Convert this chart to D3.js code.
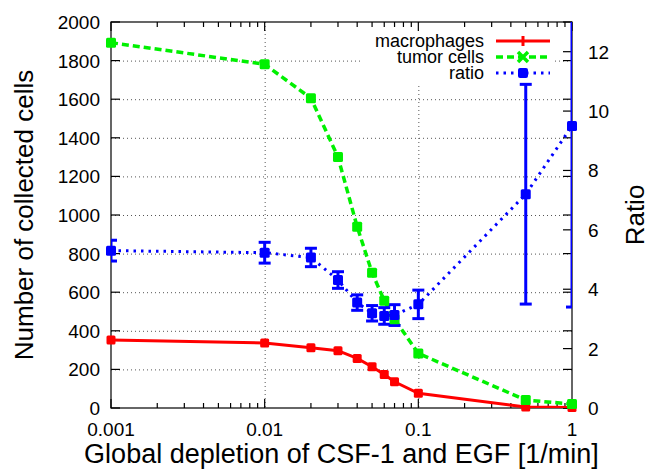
<!DOCTYPE html>
<html>
<head>
<meta charset="utf-8">
<script src="https://cdn.jsdelivr.net/npm/d3@7"></script>
<style>
  html, body { margin: 0; padding: 0; background: #fff; }
  svg { display: block; font-family: "Liberation Sans", Arial, Helvetica, sans-serif; }
</style>
</head>
<body>
<div id="chart"></div>
<script>
// depletion rates (x) and the three measured series
const depletion = [0.001, 0.01, 0.02, 0.03, 0.04, 0.05, 0.06, 0.07, 0.1, 0.5, 1];
const macrophages = [352, 337, 312, 297, 257, 214, 173, 136, 76, 5, 2];
const tumorCells = [1893, 1781, 1605, 1300, 939, 701, 556, 460, 283, 41, 21];
const ratio = [5.30, 5.23, 5.07, 4.31, 3.55, 3.19, 3.10, 3.13, 3.49, 7.2, 9.5];
const ratioErr = [0.35, 0.35, 0.31, 0.28, 0.26, 0.26, 0.28, 0.35, 0.48, 3.7, 6.1];

const xTicks = [0.001, 0.01, 0.1, 1];
const xTickLabels = ["0.001", "0.01", "0.1", "1"];
const yTicks = [0, 200, 400, 600, 800, 1000, 1200, 1400, 1600, 1800, 2000];
const y2Ticks = [0, 2, 4, 6, 8, 10, 12];
const legendLabels = ["macrophages", "tumor cells", "ratio"];

const width = 649, height = 470;
const margin = {top: 22, right: 77, bottom: 62, left: 111};
const plotW = width - margin.left - margin.right;
const plotH = height - margin.top - margin.bottom;

var svg = d3.select("#chart").append("svg")
    .attr("width", width)
    .attr("height", height);

var x = d3.scaleLog().domain([0.001, 1]).range([margin.left, margin.left + plotW]);
var y = d3.scaleLinear().domain([0, 2000]).range([margin.top + plotH, margin.top]);
var y2 = d3.scaleLinear().domain([0, 13]).range([margin.top + plotH, margin.top]);

svg.append("defs").append("clipPath").attr("id", "clip")
    .append("rect")
    .attr("x", margin.left).attr("y", margin.top)
    .attr("width", plotW).attr("height", plotH);

////////// GRID //////////
var grid = svg.append("g")
    .attr("stroke", "#555")
    .attr("stroke-width", 1)
    .attr("stroke-dasharray", "1,3");

grid.selectAll("line.h")
    .data(yTicks.filter(d => d > 0 && d < 2000))
    .enter().append("line")
    .attr("x1", margin.left).attr("x2", margin.left + plotW)
    .attr("y1", d => y(d) + 0.5).attr("y2", d => y(d) + 0.5);

grid.selectAll("line.v")
    .data(xTicks.filter(d => d > 0.001 && d < 1))
    .enter().append("line")
    .attr("y1", margin.top).attr("y2", margin.top + plotH)
    .attr("x1", d => x(d) + 0.5).attr("x2", d => x(d) + 0.5);

// legend box blanks out the grid behind it
svg.append("rect")
    .attr("x", 360).attr("y", margin.top + 1)
    .attr("width", 195).attr("height", 62)
    .attr("fill", "#fff");

////////// AXES //////////
var axes = svg.append("g").attr("stroke", "#000").attr("stroke-width", 1.2);

// minor log ticks on bottom and top
var minorX = [];
xTicks.slice(0, -1).forEach(function(d) {
    for (let k = 2; k <= 9; k++) minorX.push(d * k);
});

function xTickMarks(vals, len) {
    axes.selectAll(null).data(vals).enter().append("line")
        .attr("x1", d => x(d)).attr("x2", d => x(d))
        .attr("y1", margin.top + plotH).attr("y2", margin.top + plotH - len);
    axes.selectAll(null).data(vals).enter().append("line")
        .attr("x1", d => x(d)).attr("x2", d => x(d))
        .attr("y1", margin.top).attr("y2", margin.top + len);
}
xTickMarks(xTicks, 9);
xTickMarks(minorX, 5);

// left ticks, mirrored on the right side
axes.selectAll(null).data(yTicks).enter().append("line")
    .attr("x1", margin.left).attr("x2", margin.left + 9)
    .attr("y1", d => y(d)).attr("y2", d => y(d));
axes.selectAll(null).data(yTicks).enter().append("line")
    .attr("x1", margin.left + plotW).attr("x2", margin.left + plotW - 9)
    .attr("y1", d => y(d)).attr("y2", d => y(d));
// ratio ticks on the right
axes.selectAll(null).data(y2Ticks).enter().append("line")
    .attr("x1", margin.left + plotW).attr("x2", margin.left + plotW - 9)
    .attr("y1", d => y2(d)).attr("y2", d => y2(d));

axes.append("rect")
    .attr("x", margin.left).attr("y", margin.top)
    .attr("width", plotW).attr("height", plotH)
    .attr("fill", "none");

// tick labels
var labels = svg.append("g").attr("font-size", 19).attr("fill", "#000");
labels.selectAll(null).data(xTicks).enter().append("text")
    .attr("x", d => x(d)).attr("y", margin.top + plotH + 28)
    .attr("text-anchor", "middle")
    .text((d, i) => xTickLabels[i]);
labels.selectAll(null).data(yTicks).enter().append("text")
    .attr("x", margin.left - 11).attr("y", d => y(d) + 7)
    .attr("text-anchor", "end")
    .text(d => d);
labels.selectAll(null).data(y2Ticks).enter().append("text")
    .attr("x", margin.left + plotW + 16).attr("y", d => y2(d) + 7)
    .attr("text-anchor", "start")
    .text(d => d);

// axis titles
svg.append("text")
    .attr("x", margin.left + plotW / 2).attr("y", 463)
    .attr("text-anchor", "middle").attr("font-size", 27)
    .text("Global depletion of CSF-1 and EGF [1/min]");
svg.append("text")
    .attr("transform", "translate(33," + (margin.top + plotH / 2) + ") rotate(-90)")
    .attr("text-anchor", "middle").attr("font-size", 26)
    .text("Number of collected cells");
svg.append("text")
    .attr("transform", "translate(644," + (margin.top + plotH / 2) + ") rotate(-90)")
    .attr("text-anchor", "middle").attr("font-size", 26)
    .text("Ratio");

////////// SERIES //////////
var plot = svg.append("g").attr("clip-path", "url(#clip)");
var outer = svg.append("g"); // markers may sit on the frame

function series(values, scale, color, width, dash) {
    let line = d3.line()
        .x((d, i) => x(depletion[i]))
        .y(d => scale(d));
    plot.append("path")
        .datum(values)
        .attr("d", line)
        .attr("fill", "none")
        .attr("stroke", color)
        .attr("stroke-width", width)
        .attr("stroke-dasharray", dash);
}

function markers(values, scale, color, size) {
    outer.selectAll(null).data(values).enter().append("rect")
        .attr("x", (d, i) => x(depletion[i]) - size / 2)
        .attr("y", d => scale(d) - size / 2)
        .attr("width", size).attr("height", size)
        .attr("rx", 1.5)
        .attr("fill", color);
}

series(macrophages, y, "#ff0000", 3, null);
markers(macrophages, y, "#ff0000", 9);

series(tumorCells, y, "#00f000", 3.5, "7,4");
markers(tumorCells, y, "#00f000", 10);

series(ratio, y2, "#0000ff", 3, "2.5,5");

// error bars for the ratio
var err = plot.append("g").attr("stroke", "#0000ff").attr("stroke-width", 3);
err.selectAll(null).data(ratio).enter().append("line")
    .attr("x1", (d, i) => x(depletion[i])).attr("x2", (d, i) => x(depletion[i]))
    .attr("y1", (d, i) => y2(d - ratioErr[i])).attr("y2", (d, i) => y2(d + ratioErr[i]));
[-1, 1].forEach(function(s) {
    err.selectAll(null).data(ratio).enter().append("line")
        .attr("x1", (d, i) => x(depletion[i]) - 6).attr("x2", (d, i) => x(depletion[i]) + 6)
        .attr("y1", (d, i) => y2(d + s * ratioErr[i])).attr("y2", (d, i) => y2(d + s * ratioErr[i]));
});
markers(ratio, y2, "#0000ff", 10);

////////// LEGEND //////////
var legend = svg.append("g").attr("font-size", 18);
var legendY = [41, 57, 73];
var legendColors = ["#ff0000", "#00f000", "#0000ff"];
var legendDash = [null, "7,4", "2.5,5"];
var legendWidth = [3, 3.5, 3];
legendLabels.forEach(function(lbl, i) {
    legend.append("text")
        .attr("x", 484).attr("y", legendY[i] + 6)
        .attr("text-anchor", "end")
        .text(lbl);
    legend.append("line")
        .attr("x1", 496).attr("x2", 550)
        .attr("y1", legendY[i]).attr("y2", legendY[i])
        .attr("stroke", legendColors[i])
        .attr("stroke-width", legendWidth[i])
        .attr("stroke-dasharray", legendDash[i]);
});
// legend point symbols: plus, cross, filled blob
legend.append("path")
    .attr("d", "M523," + (legendY[0] - 5) + "V" + (legendY[0] + 5))
    .attr("stroke", "#ff0000").attr("stroke-width", 3);
legend.append("path")
    .attr("d", "M518," + (legendY[1] - 5) + "L528," + (legendY[1] + 5) +
               "M518," + (legendY[1] + 5) + "L528," + (legendY[1] - 5))
    .attr("stroke", "#00f000").attr("stroke-width", 3.5);
legend.append("rect")
    .attr("x", 518).attr("y", legendY[2] - 5)
    .attr("width", 10).attr("height", 10)
    .attr("rx", 2)
    .attr("fill", "#0000ff");
</script>
</body>
</html>
